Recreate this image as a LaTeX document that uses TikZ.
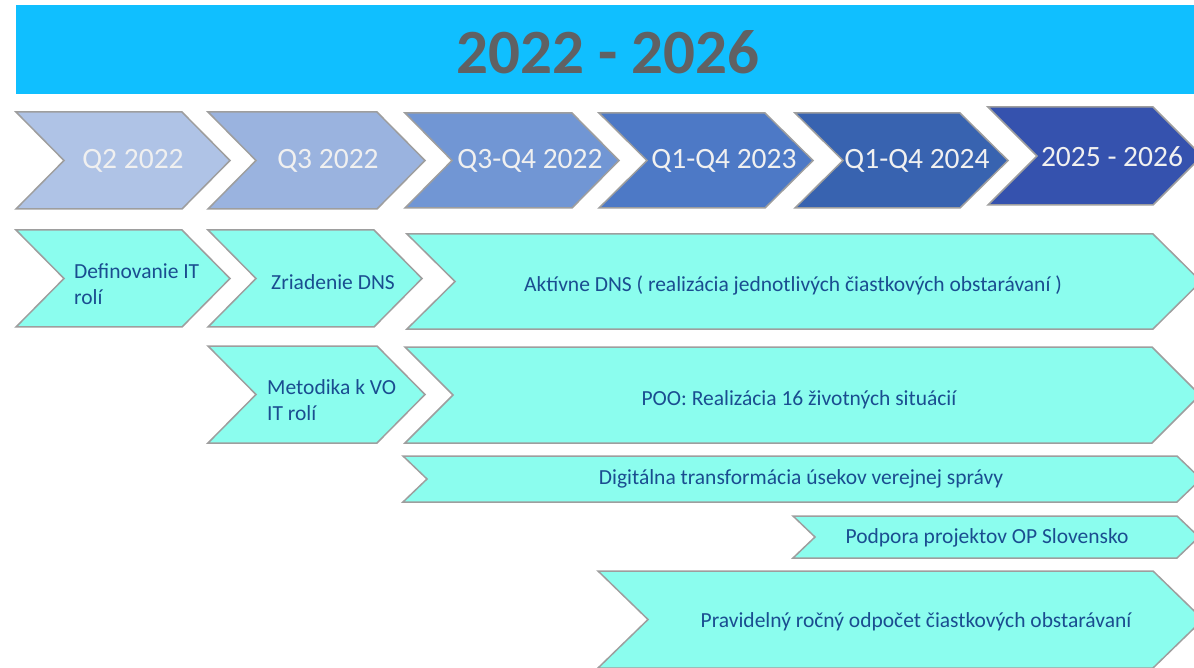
\documentclass[tikz,border=0pt]{standalone}
\usepackage{fontspec}
\setmainfont{Carlito}
\definecolor{hdr}{HTML}{10BFFF}
\definecolor{ttl}{HTML}{606163}
\definecolor{ca}{HTML}{AFC3E6}
\definecolor{cb}{HTML}{9AB3DF}
\definecolor{cc}{HTML}{7196D4}
\definecolor{cd}{HTML}{4D79C6}
\definecolor{ce}{HTML}{3863B0}
\definecolor{cf}{HTML}{3552AE}
\definecolor{aq}{HTML}{8BFDEE}
\definecolor{bord}{HTML}{9E9E9E}
\definecolor{txtb}{HTML}{1A4D90}
\definecolor{txtw}{HTML}{F0F0F0}
\tikzset{
  chev/.style={draw=bord, line width=1.5pt, line join=miter},
  qlabel/.style={text=txtw, font=\fontsize{29.5}{34}\selectfont, inner sep=0pt},
  tlabel/.style={text=txtb, font=\fontsize{21.5}{26}\selectfont, inner sep=0pt},
}
\newcommand\mychev[6]{% left x, top, bottom, depth, top-right x, fill
  \path[chev, fill=#6] (#1,#2) -- (#5,#2) -- ({#5+#4},{(#2+#3)/2}) -- (#5,#3) -- (#1,#3) -- ({#1+#4},{(#2+#3)/2}) -- cycle;}
\begin{document}
\begin{tikzpicture}[x=1pt,y=-1pt]
\useasboundingbox (0,0) rectangle (1194,668);
\clip (0,0) rectangle (1194,668);
% header
\fill[hdr] (16,5) rectangle (1194,94);
\node[text=ttl, font=\bfseries\fontsize{63}{70}\selectfont, inner sep=0pt] (title) at (608,52) {2022 - 2026};
% timeline row
\mychev{16}{112}{209}{48}{182}{ca}
\mychev{208}{112}{209}{48}{377}{cb}
\mychev{405}{113}{208}{47}{572}{cc}
\mychev{599}{113}{208}{48}{765}{cd}
\mychev{795}{113}{208}{48}{960}{ce}
\mychev{988}{107}{205}{49}{1153}{cf}
\node[qlabel] (q1) at (133,161) {Q2 2022};
\node[qlabel] (q2) at (328,161) {Q3 2022};
\node[qlabel] (q3) at (530,161) {Q3-Q4 2022};
\node[qlabel] (q4) at (724,161) {Q1-Q4 2023};
\node[qlabel] (q5) at (917,161) {Q1-Q4 2024};
\node[qlabel] (q6) at (1112,157) {2025 - 2026};
% activities
\mychev{16}{230}{327}{48}{182}{aq}
\mychev{208}{230}{327}{48}{374}{aq}
\mychev{407}{234}{329}{48}{1153}{aq}
\mychev{208}{346}{443}{48}{377}{aq}
\mychev{405}{347}{443}{48}{1152}{aq}
\mychev{403}{456}{502}{24}{1177}{aq}
\mychev{793}{516}{558}{22}{1177}{aq}
\mychev{598}{571}{668}{50}{1153}{aq}
\node[tlabel, anchor=west, align=left] (a1) at (74,284) {Definovanie IT\\rolí};
\node[tlabel] (a2) at (333,282) {Zriadenie DNS};
\node[tlabel] (a3) at (793,285) {Aktívne DNS ( realizácia jednotlivých čiastkových obstarávaní )};
\node[tlabel, anchor=west, align=left] (a4) at (267,400) {Metodika k VO\\IT rolí};
\node[tlabel] (a5) at (799,400) {POO: Realizácia 16 životných situácií};
\node[tlabel] (a6) at (801,479) {Digitálna transformácia úsekov verejnej správy};
\node[tlabel] (a7) at (987,538) {Podpora projektov OP Slovensko};
\node[tlabel] (a8) at (916,622) {Pravidelný ročný odpočet čiastkových obstarávaní};
\end{tikzpicture}
\end{document}
